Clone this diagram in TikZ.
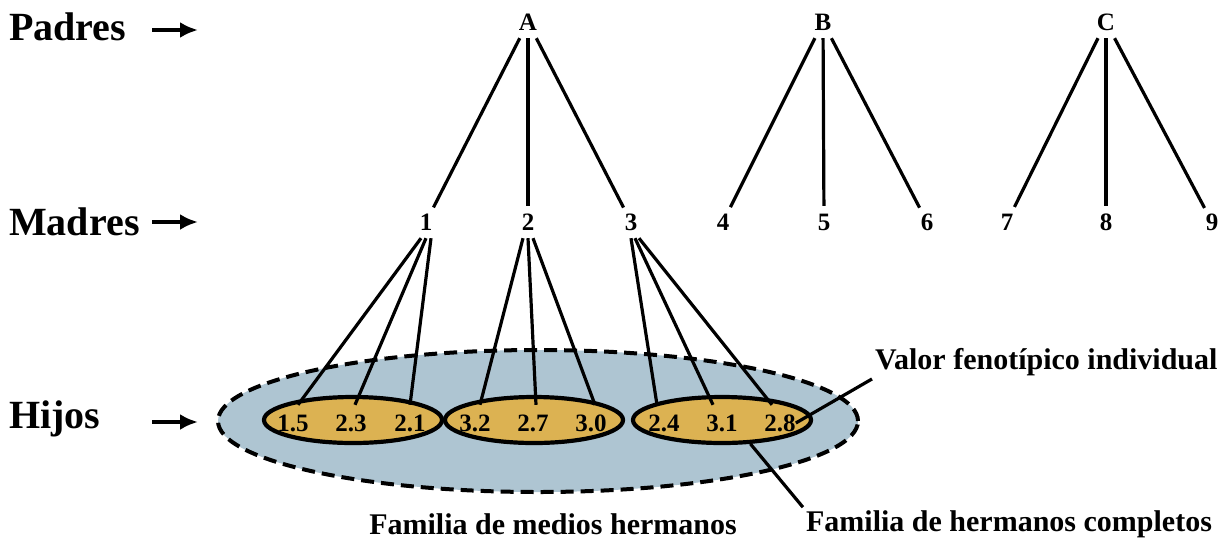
\documentclass[tikz,border=0pt]{standalone}
\usepackage{fontspec}
\setmainfont{Liberation Serif}
\usepackage{tikz}
\usetikzlibrary{shapes.geometric,arrows.meta}
\definecolor{halfblue}{RGB}{174,197,210}
\definecolor{fullgold}{RGB}{220,178,82}

\begin{document}
\begin{tikzpicture}[x=1pt,y=-1pt,
    rowlabel/.style={font=\fontsize{40}{40}\selectfont\bfseries, anchor=west, inner sep=0pt},
    lbl/.style={font=\fontsize{25}{25}\selectfont\bfseries, minimum height=32pt, inner sep=1pt, text depth=0pt},
    kid/.style={font=\fontsize{25}{25}\selectfont\bfseries, inner sep=0pt, minimum height=36pt, text depth=0pt},
    note/.style={font=\fontsize{30}{30}\selectfont\bfseries, inner sep=3pt},
    link/.style={line width=3.2pt},
    family/.style={ellipse, draw, line width=4.2pt, fill=fullgold, minimum width=178pt, minimum height=46pt, inner sep=0pt}]
        \useasboundingbox (0,0) rectangle (1231,539);
        % hijos: medios hermanos y hermanos completos
        \node[ellipse, draw, dash pattern=on 13pt off 7pt, line width=4pt, fill=halfblue,
              minimum width=640pt, minimum height=142pt] (hs) at (538,421) {};
        \foreach \f/\x in {1/353,2/534,3/722}{
            \node[family] (fs\f) at (\x,420) {};
        }
        % filas
        \foreach \name/\y/\ya in {Padres/27/30, Madres/222/222, Hijos/419/422}{
            \node[rowlabel] (\name) at (9,\y) {\name};
            \coordinate (\name arr) at (152,\ya);
            \draw[line width=4pt, -{Latex[length=18pt,width=16pt]}] (\name arr) -- ++(46,0);
        }
        \foreach \p/\x in {A/528,B/823,C/1106}{
            \node[lbl] (p\p) at (\x,22) {\p};
        }
        \foreach \m/\x in {1/426,2/528,3/631,4/723,5/824,6/927,7/1007,8/1106,9/1212}{
            \node[lbl] (m\m) at (\x,222) {\m};
        }
        \foreach \p/\m in {A/1,A/2,A/3,B/4,B/5,B/6,C/7,C/8,C/9}{
            \draw[link] (p\p) -- (m\m);
        }
        \foreach \k/\x/\v in {1/293/1.5, 2/351/2.3, 3/410/2.1, 4/475/3.2, 5/533/2.7, 6/591/3.0, 7/664/2.4, 8/722/3.1, 9/780/2.8}{
            \node[kid] (k\k) at (\x,423) {\v};
        }
        \foreach \m/\k/\s/\e in {1/1/-5/5, 1/2/0/4, 1/3/5/0, 2/4/-5/5, 2/5/0/3, 2/6/5/4, 3/7/0/-7, 3/8/4/-9, 3/9/8/-8}{
            \draw[link] ([xshift=\s pt]m\m.south) -- ([xshift=\e pt]k\k.north);
        }
        % rotulos
        \node[note, anchor=west] (valor) at (872,362) {Valor fenotípico individual};
        \node[note] (medios) at (553,524) {Familia de medios hermanos};
        \node[note] (completos) at (1009,524) {Familia de hermanos completos};
        \draw[link] (k9.east) -- (valor.south west);
        \draw[link] (fs3.-40) -- (completos.north west);
\end{tikzpicture}
\end{document}
